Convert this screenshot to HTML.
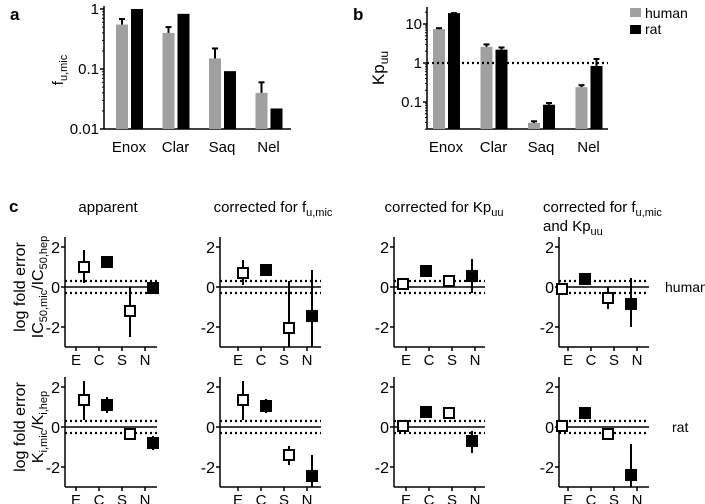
<!DOCTYPE html>
<html><head><meta charset="utf-8"><style>
body{margin:0;background:#fff}
svg{display:block;font-family:"Liberation Sans",Arial,sans-serif}
</style></head><body>
<svg id="fig" width="705" height="504" viewBox="0 0 705 504"></svg>
<script>
const drugs=["Enox","Clar","Saq","Nel"];
const fuHuman=[0.55,0.40,0.15,0.040];
const fuHumanErr=[0.68,0.50,0.22,0.060];
const fuRat=[1.0,0.83,0.092,0.022];
const kpHuman=[7.4,2.6,0.029,0.24];
const kpHumanErr=[7.8,3.0,0.032,0.27];
const kpRat=[19,2.2,0.085,0.84];
const kpRatErr=[19,2.5,0.094,1.27];
const shortLabels=["E","C","S","N"];
const openMarker=[true,false,true,false];
const colTitles=["apparent","corrected for f","corrected for Kp","corrected for f"];
const humanVal=[[1.0,1.25,-1.2,-0.05],[0.7,0.85,-2.05,-1.45],[0.15,0.8,0.3,0.55],[-0.1,0.4,-0.55,-0.85]];
const humanLo=[[0.2,1.25,-2.5,-0.05],[0.1,0.85,-3,-3],[0.05,0.8,0.05,-0.3],[-0.35,0.4,-1.1,-2]];
const humanHi=[[1.85,1.25,0,-0.05],[1.35,0.85,0.3,0.85],[0.25,0.8,0.55,1.4],[0.1,0.4,0,0.45]];
const ratVal=[[1.35,1.1,-0.35,-0.8],[1.35,1.05,-1.4,-2.45],[0.05,0.75,0.7,-0.7],[0.05,0.7,-0.35,-2.4]];
const ratLo=[[0.35,0.7,-0.35,-1.15],[0.35,0.7,-1.9,-3],[0.05,0.45,0.7,-1.3],[0.05,0.5,-0.35,-3]];
const ratHi=[[2.3,1.5,-0.35,-0.45],[2.3,1.4,-0.95,-1.4],[0.05,1.05,0.7,-0.2],[0.05,0.85,-0.35,-0.85]];
const yTicksC=[2,0,-2];

const svg=document.getElementById('fig');
const NS="http://www.w3.org/2000/svg";
function el(tag,attrs,parent){const e=document.createElementNS(NS,tag);for(const k in attrs)e.setAttribute(k,attrs[k]);(parent||svg).appendChild(e);return e;}
function txt(x,y,s,size,anchor,parent,weight){const t=el('text',{x:x,y:y,'font-size':size,'text-anchor':anchor||'middle',fill:'#000'},parent);if(weight)t.setAttribute('font-weight',weight);t.innerHTML=s;return t;}

let t;
t=txt(10,20,'a',17,'start',svg,'bold');
t=txt(353,20,'b',17,'start',svg,'bold');
t=txt(9,212,'c',17,'start',svg,'bold');

{
const g=el('g',{});
const x0=104,yBot=129,dec=60;
const y=v=>yBot-(Math.log10(v)+2)*dec;
const cx=i=>129+i*46.5;
el('line',{x1:x0,y1:6,x2:x0,y2:yBot,stroke:'#000','stroke-width':1.5},g);
el('line',{x1:x0,y1:yBot,x2:291,y2:yBot,stroke:'#000','stroke-width':1.5},g);
[[1,'1'],[0.1,'0.1'],[0.01,'0.01']].forEach(([v,l])=>{el('line',{x1:x0-4,y1:y(v),x2:x0,y2:y(v),stroke:'#000','stroke-width':1.5},g);txt(x0-5,y(v)+5,l,15,'end',g);});
for(let d=0;d<2;d++)for(let k=2;k<10;k++){const v=Math.pow(10,-2+d)*k;el('line',{x1:x0-2,y1:y(v),x2:x0,y2:y(v),stroke:'#000','stroke-width':1},g);}
drugs.forEach((d,i)=>{
 const b1=el('rect',{x:cx(i)-13,y:y(fuHuman[i]),width:12,height:yBot-y(fuHuman[i]),fill:'#a0a0a0'},g);
 
 el('line',{x1:cx(i)-7,y1:y(fuHuman[i]),x2:cx(i)-7,y2:y(fuHumanErr[i]),stroke:'#000','stroke-width':2},g);
 el('line',{x1:cx(i)-10,y1:y(fuHumanErr[i]),x2:cx(i)-4,y2:y(fuHumanErr[i]),stroke:'#000','stroke-width':2},g);
 const b2=el('rect',{x:cx(i)+2,y:y(fuRat[i]),width:12,height:yBot-y(fuRat[i]),fill:'#000'},g);
 
 txt(cx(i),152,d,15,'middle',g);
});
const yl=el('text',{x:0,y:0,'font-size':15,'text-anchor':'middle',transform:'translate(63,70) rotate(-90)'},g);
yl.innerHTML='f<tspan font-size="11" dy="4">u,mic</tspan>';

}

{
const g=el('g',{});
const x0=427,yBot=129,dec=39,y1=63;
const y=v=>y1-Math.log10(v)*dec;
const cx=i=>447+i*47.5;
el('line',{x1:x0,y1:7,x2:x0,y2:yBot,stroke:'#000','stroke-width':1.5},g);
el('line',{x1:x0,y1:yBot,x2:608,y2:yBot,stroke:'#000','stroke-width':1.5},g);
[[10,'10'],[1,'1'],[0.1,'0.1']].forEach(([v,l])=>{el('line',{x1:x0-4,y1:y(v),x2:x0,y2:y(v),stroke:'#000','stroke-width':1.5},g);txt(x0-5,y(v)+5,l,15,'end',g);});
[0.02,0.03,0.04,0.05,0.06,0.07,0.08,0.09,0.2,0.3,0.4,0.5,0.6,0.7,0.8,0.9,2,3,4,5,6,7,8,9,20].forEach(v=>el('line',{x1:x0-2,y1:y(v),x2:x0,y2:y(v),stroke:'#000','stroke-width':1},g));
drugs.forEach((d,i)=>{
 const b1=el('rect',{x:cx(i)-14,y:y(kpHuman[i]),width:12,height:yBot-y(kpHuman[i]),fill:'#a0a0a0'},g);
 
 el('line',{x1:cx(i)-8,y1:y(kpHuman[i]),x2:cx(i)-8,y2:y(kpHumanErr[i]),stroke:'#000','stroke-width':2},g);
 el('line',{x1:cx(i)-11,y1:y(kpHumanErr[i]),x2:cx(i)-5,y2:y(kpHumanErr[i]),stroke:'#000','stroke-width':2},g);
 const b2=el('rect',{x:cx(i)+1,y:y(kpRat[i]),width:12,height:yBot-y(kpRat[i]),fill:'#000'},g);
 
 el('line',{x1:cx(i)+7,y1:y(kpRat[i]),x2:cx(i)+7,y2:y(kpRatErr[i]),stroke:'#000','stroke-width':2},g);
 el('line',{x1:cx(i)+4,y1:y(kpRatErr[i]),x2:cx(i)+10,y2:y(kpRatErr[i]),stroke:'#000','stroke-width':2},g);
 txt(cx(i)-1,152,d,15,'middle',g);
});
el('line',{x1:x0,y1:y(1),x2:608,y2:y(1),stroke:'#000','stroke-width':2.2,'stroke-dasharray':'2,3'},g);
const yl=el('text',{x:0,y:0,'font-size':17,'text-anchor':'middle',transform:'translate(384,68) rotate(-90)'},g);
yl.innerHTML='Kp<tspan font-size="12" dy="4">uu</tspan>';

const lg=el('g',{},svg);
const l1=el('rect',{x:630,y:8,width:11,height:9,fill:'#a0a0a0'},lg);
txt(645,18,'human',14,'start',lg);
const l2=el('rect',{x:630,y:25,width:11,height:9,fill:'#000'},lg);
txt(645,34,'rat',14,'start',lg);
}

const colX=[65,220,394,559];
const colW=[92,101,91,90];
const ptOff=[19,23,9,3];
const tickOff=[11,18,12,9];
const rowY0=[287,427];
function title(i){
 let e;
 if(i===0)e=txt(108,212,'apparent',15,'middle');
 else if(i===1){e=txt(273,212,'',15,'middle');e.innerHTML='corrected for f<tspan font-size="11" dy="4">u,mic</tspan>';}
 else if(i===2){e=txt(444,212,'',15,'middle');e.innerHTML='corrected for Kp<tspan font-size="11" dy="4">uu</tspan>';}
 else {e=txt(543,212,'',15,'start');e.innerHTML='corrected for f<tspan font-size="11" dy="4">u,mic</tspan>';const e2=txt(543,231,'',15,'start');e2.innerHTML='and Kp<tspan font-size="11" dy="4">uu</tspan>';}
 
 
}
colTitles.forEach((_,i)=>title(i));
function subplot(r,c,vals,lo,hi){
 const g=el('g',{});
 const x0=colX[c],y0=rowY0[r];
 const y=v=>y0-v*20;
 const xE=x0+colW[c];
 el('line',{x1:x0,y1:y(2.5),x2:x0,y2:y(-3),stroke:'#000','stroke-width':1.5},g);
 el('line',{x1:x0,y1:y(-3),x2:xE,y2:y(-3),stroke:'#000','stroke-width':1.5},g);
 yTicksC.forEach(v=>{el('line',{x1:x0-4,y1:y(v),x2:x0,y2:y(v),stroke:'#000','stroke-width':1.5},g);txt(x0-5,y(v)+6,String(v),16,'end',g);});
 el('line',{x1:x0,y1:y(0),x2:xE,y2:y(0),stroke:'#000','stroke-width':1.5},g);
 el('line',{x1:x0,y1:y(0.3),x2:xE,y2:y(0.3),stroke:'#000','stroke-width':2.2,'stroke-dasharray':'2,3'},g);
 el('line',{x1:x0,y1:y(-0.3),x2:xE,y2:y(-0.3),stroke:'#000','stroke-width':2.2,'stroke-dasharray':'2,3'},g);
 shortLabels.forEach((s,i)=>{const tx=x0+tickOff[c]+i*23;el('line',{x1:tx,y1:y(-3),x2:tx,y2:y(-3)+4,stroke:'#000','stroke-width':1.5},g);txt(tx,y(-3)+18,s,15,'middle',g);});
 vals.forEach((v,i)=>{
  const px=x0+ptOff[c]+i*23;
  el('line',{x1:px,y1:y(lo[i]),x2:px,y2:y(hi[i]),stroke:'#000','stroke-width':2},g);
  const m=openMarker[i]?el('rect',{x:px-5,y:y(v)-5,width:10,height:10,fill:'#fff',stroke:'#000','stroke-width':2},g):el('rect',{x:px-6,y:y(v)-6,width:12,height:12,fill:'#000'},g);
  
  
 });
}
for(let c=0;c<4;c++){subplot(0,c,humanVal[c],humanLo[c],humanHi[c]);subplot(1,c,ratVal[c],ratLo[c],ratHi[c]);}
[[287,'IC<tspan font-size="11" dy="4">50,mic</tspan><tspan dy="-4">/IC</tspan><tspan font-size="11" dy="4">50,hep</tspan>'],[427,'K<tspan font-size="11" dy="4">i,mic</tspan><tspan dy="-4">/K</tspan><tspan font-size="11" dy="4">i,hep</tspan>']].forEach(([cy,lab],k)=>{
 const a=el('text',{x:0,y:0,'font-size':16,'text-anchor':'middle',transform:`translate(25,${cy}) rotate(-90)`});a.textContent='log fold error';
 
 const b=el('text',{x:0,y:0,'font-size':16,'text-anchor':'middle',transform:`translate(43,${cy}) rotate(-90)`});b.innerHTML=lab;
});
t=txt(665,292,'human',14,'start');
t=txt(672,432,'rat',14,'start');
</script>
</body></html>
